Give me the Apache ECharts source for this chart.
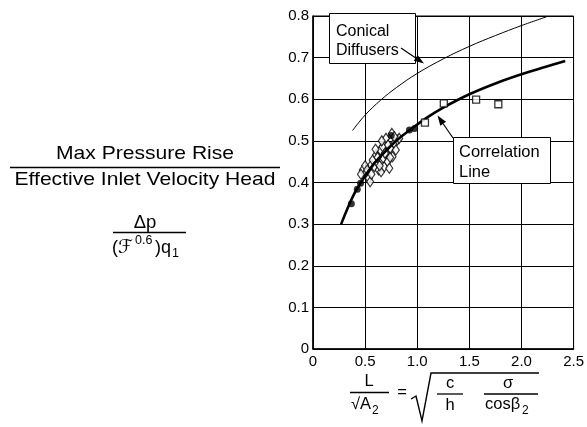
<!DOCTYPE html>
<html><head><meta charset="utf-8">
<script src="https://cdn.jsdelivr.net/npm/echarts@6/dist/echarts.min.js"></script>
<style>html,body{margin:0;padding:0;background:#fff}#c{width:587px;height:427px}</style>
</head><body><div id="c"></div>
<script>
// ---- data ----
const xTicks = [0, 0.5, 1.0, 1.5, 2.0, 2.5];
const yTicks = [0, 0.1, 0.2, 0.3, 0.4, 0.5, 0.6, 0.7, 0.8];
const corrX = [0.27, 0.33, 0.40, 0.48, 0.56, 0.65, 0.75, 0.85, 0.95, 1.10, 1.25, 1.50, 1.75, 2.00, 2.25, 2.42];
const corrY = [0.300, 0.337, 0.375, 0.408, 0.437, 0.463, 0.489, 0.511, 0.530, 0.557, 0.580, 0.612, 0.638, 0.660, 0.679, 0.692];
const conX = [0.38, 0.50, 0.65, 0.80, 1.00, 1.25, 1.50, 1.75, 2.00, 2.24];
const conY = [0.525, 0.562, 0.598, 0.628, 0.662, 0.697, 0.727, 0.753, 0.777, 0.798];
const diamondX = [0.478, 0.510, 0.535, 0.548, 0.558, 0.573, 0.589, 0.605, 0.621, 0.630, 0.646, 0.653, 0.668, 0.675, 0.684, 0.700, 0.700, 0.716, 0.732, 0.741, 0.757, 0.763, 0.779, 0.795, 0.811, 0.827, 0.460, 0.500, 0.520, 0.600, 0.620, 0.660, 0.720, 0.740, 0.780, 0.690, 0.560, 0.640];
const diamondY = [0.430, 0.424, 0.410, 0.402, 0.442, 0.454, 0.438, 0.466, 0.446, 0.430, 0.478, 0.426, 0.486, 0.458, 0.438, 0.506, 0.470, 0.450, 0.434, 0.482, 0.518, 0.462, 0.494, 0.478, 0.502, 0.506, 0.420, 0.440, 0.430, 0.480, 0.460, 0.500, 0.490, 0.460, 0.510, 0.470, 0.420, 0.440];
const squareX = [1.074, 1.255, 1.565, 1.778];
const squareY = [0.544, 0.590, 0.599, 0.588];
const dotX = [0.368, 0.425, 0.456, 0.750, 0.925, 0.975];
const dotY = [0.349, 0.384, 0.398, 0.513, 0.526, 0.530];

const zip = (a, b) => a.map((v, i) => [v, b[i]]);
const F = "'Liberation Sans', Arial, Helvetica, sans-serif";
const fmt = v => (v === 0 ? '0' : v.toFixed(1));

function txt(text, x, y, size, opts) {
  opts = opts || {};
  return {
    type: 'text', x: x, y: y, z: 20, scaleX: opts.sx || 1,
    style: {
      text: text, font: (opts.weight || 'normal') + ' ' + size + 'px ' + (opts.family || F), fill: '#000',
      align: opts.align || 'center', verticalAlign: 'middle',
      textAlign: opts.align || 'center', textVerticalAlign: 'middle'
    }
  };
}
function hline(x1, x2, y, w) {
  return { type: 'line', z: 20, shape: { x1: x1, y1: y, x2: x2, y2: y }, style: { stroke: '#000', lineWidth: w || 1.3 } };
}
function arrow(x1, y1, x2, y2) {
  const dx = x2 - x1, dy = y2 - y1, L = Math.hypot(dx, dy), ux = dx / L, uy = dy / L;
  const bx = x2 - 10 * ux, by = y2 - 10 * uy, px = -uy * 3.5, py = ux * 3.5;
  return [
    { type: 'line', z: 21, shape: { x1: x1, y1: y1, x2: bx, y2: by }, style: { stroke: '#000', lineWidth: 1.2 } },
    { type: 'polygon', z: 21, shape: { points: [[x2, y2], [bx + px, by + py], [bx - px, by - py]] }, style: { fill: '#000' } }
  ];
}

const chart = echarts.init(document.getElementById('c'), null, { renderer: 'canvas' });

const graphics = [
  // left title
  txt('Max Pressure Rise', 145, 154, 18.5, { sx: 1.14 }),
  hline(10, 280, 167.5, 1.4),
  txt('Effective Inlet Velocity Head', 145, 180, 18.5, { sx: 1.14 }),
  txt('\u0394p', 145, 223, 18.5),
  hline(113, 186, 232.5, 1.4),
  txt('(', 112, 248, 18, { align: 'left' }),
  txt('\u2131', 118, 248, 19, { align: 'left', family: "'DejaVu Sans', sans-serif" }),
  txt('0.6', 135, 241, 12.5, { align: 'left' }),
  txt(')q', 155, 248, 18, { align: 'left' }),
  txt('1', 172, 254, 12.5, { align: 'left' }),
  // x title
  txt('L', 369, 381, 16.5),
  hline(350, 389, 392.5, 1.3),
  txt('\u221AA', 351, 404, 16.5, { align: 'left' }),
  txt('2', 372, 411, 12, { align: 'left' }),
  txt('=', 402, 392, 16.5),
  { type: 'polyline', z: 20, shape: { points: [[411, 399], [416, 396], [422, 421], [431, 373], [539, 373]] }, style: { stroke: '#000', lineWidth: 1.4, fill: null } },
  txt('c', 450, 383, 16.5),
  hline(437, 463, 394, 1.3),
  txt('h', 450, 405, 16.5),
  txt('\u03C3', 508, 383, 16.5),
  hline(484, 538, 394, 1.3),
  txt('cos\u03B2', 485, 404, 16.5, { align: 'left' }),
  txt('2', 522, 411, 12, { align: 'left' }),
  // annotation boxes
  { type: 'rect', z: 15, shape: { x: 329.5, y: 13.5, width: 86, height: 50 }, style: { fill: '#fff', stroke: '#000', lineWidth: 1 } },
  txt('Conical', 336, 32, 16, { align: 'left' }),
  txt('Diffusers', 336, 51, 16, { align: 'left' }),
  { type: 'rect', z: 15, shape: { x: 453.5, y: 137.5, width: 97, height: 46 }, style: { fill: '#fff', stroke: '#000', lineWidth: 1 } },
  txt('Correlation', 459, 152, 16.5, { align: 'left' }),
  txt('Line', 459, 172, 16.5, { align: 'left' })
].concat(arrow(401, 48, 424, 63.5)).concat(arrow(453, 138, 437.5, 115.5));

chart.setOption({
  animation: false,
  backgroundColor: '#fff',
  grid: { left: 313, right: 11, top: 16, bottom: 78, show: true, borderColor: '#000', borderWidth: 1 },
  xAxis: {
    type: 'value', min: xTicks[0], max: xTicks[xTicks.length - 1], interval: 0.5,
    axisLine: { show: true, onZero: false, lineStyle: { color: '#000', width: 1.5 } },
    axisTick: { show: true, inside: true, length: 3, lineStyle: { color: '#000' } },
    splitLine: { show: true, lineStyle: { color: '#000', width: 1 } },
    axisLabel: { color: '#000', fontSize: 15, fontFamily: F, margin: 5, formatter: fmt }
  },
  yAxis: {
    type: 'value', min: yTicks[0], max: yTicks[yTicks.length - 1], interval: 0.1,
    axisLine: { show: true, onZero: false, lineStyle: { color: '#000', width: 1.5 } },
    axisTick: { show: true, inside: true, length: 3, lineStyle: { color: '#000' } },
    splitLine: { show: true, lineStyle: { color: '#000', width: 1 } },
    axisLabel: { color: '#000', fontSize: 15, fontFamily: F, margin: 4, formatter: fmt }
  },
  series: [
    { type: 'line', data: zip(conX, conY), smooth: 0.4, showSymbol: false, lineStyle: { color: '#000', width: 1 }, z: 3 },
    { type: 'scatter', data: zip(diamondX, diamondY), symbol: 'diamond', symbolSize: [7, 10],
      itemStyle: { color: '#fff', borderColor: '#000', borderWidth: 1.2 }, z: 4 },
    { type: 'line', data: zip(corrX, corrY), smooth: 0.4, showSymbol: false, lineStyle: { color: '#000', width: 2.6 }, z: 5 },
    { type: 'scatter', data: zip(squareX, squareY), symbol: 'rect', symbolSize: 7,
      itemStyle: { color: '#fff', borderColor: '#000', borderWidth: 1.3 }, z: 6 },
    { type: 'scatter', data: zip(dotX, dotY), symbol: 'circle', symbolSize: 7,
      itemStyle: { color: '#000' }, z: 6 }
  ],
  graphic: graphics
});
</script></body></html>
